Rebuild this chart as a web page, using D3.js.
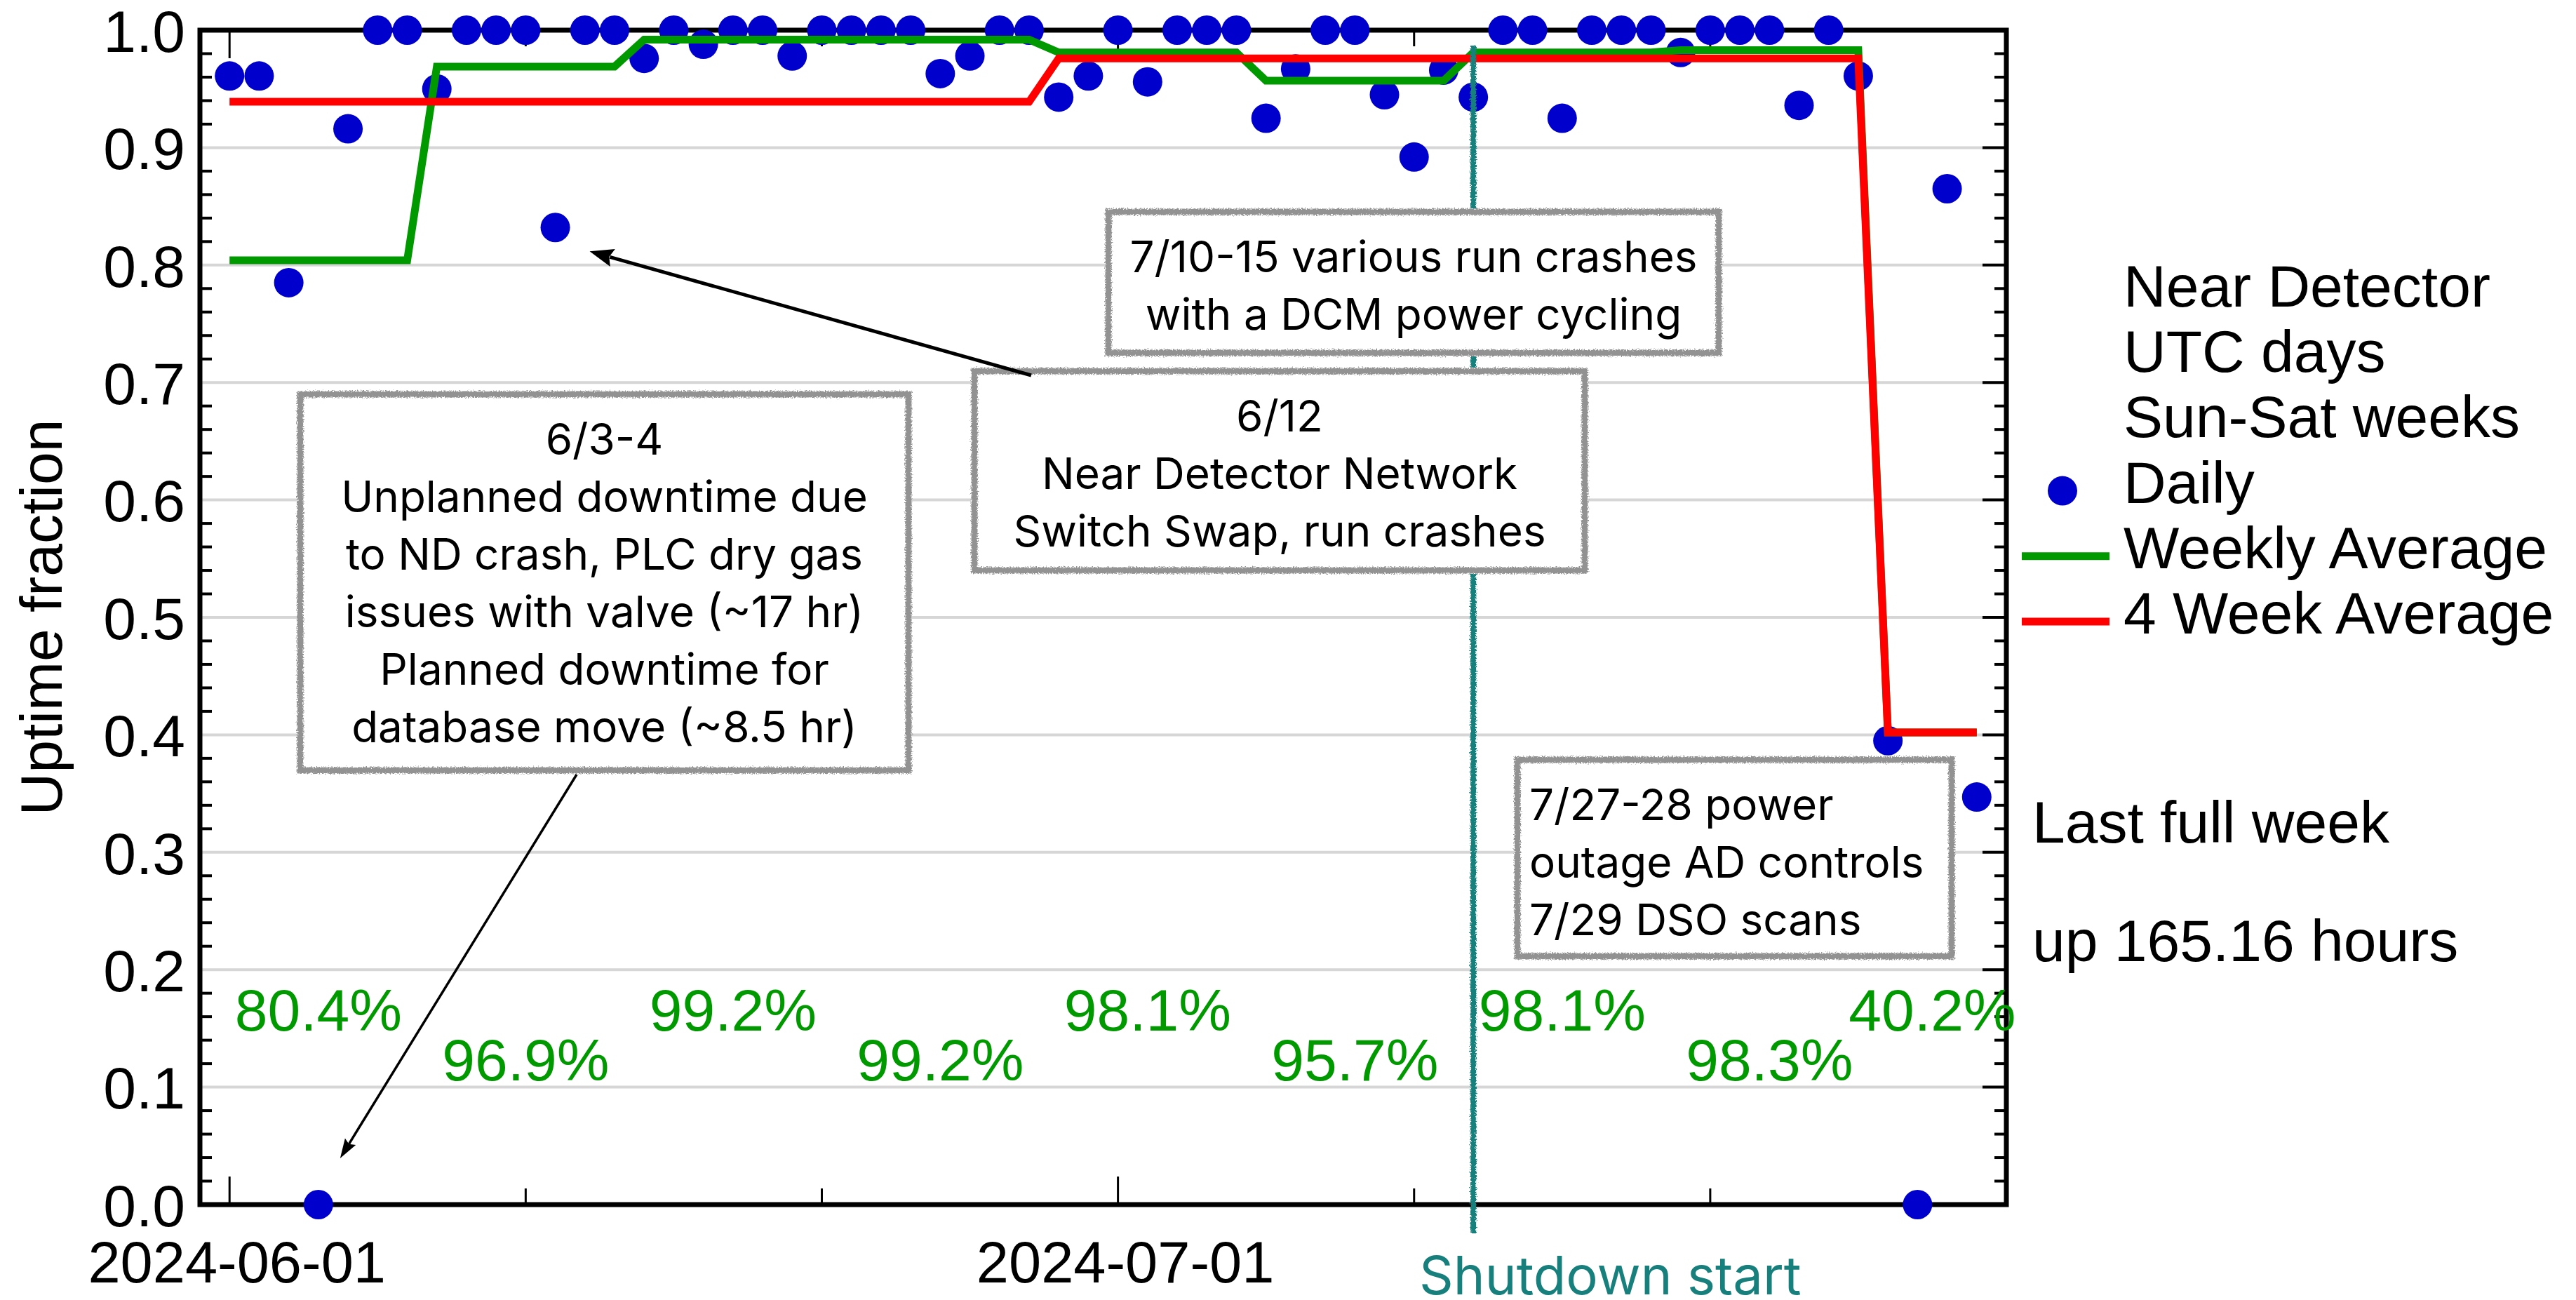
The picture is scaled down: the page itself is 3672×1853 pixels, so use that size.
<!DOCTYPE html>
<html>
<head>
<meta charset="utf-8">
<script src="https://cdn.jsdelivr.net/npm/d3@7"></script>
<style>
body { margin: 0; background: #fff; }
</style>
</head>
<body>
<div id="chart"></div>
<script>
// daily uptime fraction, one value per UTC day from 2024-06-01
var startDay = "2024-06-01";
var dailyUptime = [
    0.961, 0.961, 0.785, 0.0, 0.916, 1.0, 1.0, 0.950, 1.0, 1.0,
    1.0, 0.832, 1.0, 1.0, 0.976, 1.0, 0.988, 1.0, 1.0, 0.978,
    1.0, 1.0, 1.0, 1.0, 0.963, 0.978, 1.0, 1.0, 0.943, 0.961,
    1.0, 0.956, 1.0, 1.0, 1.0, 0.925, 0.967, 1.0, 1.0, 0.945,
    0.892, 0.966, 0.943, 1.0, 1.0, 0.925, 1.0, 1.0, 1.0, 0.981,
    1.0, 1.0, 1.0, 0.936, 1.0, 0.961, 0.395, 0.0, 0.865, 0.347
];

// weekly averages, weekStart = index of first day of each week
var weekStart = [0, 7, 14, 21, 28, 35, 42, 49, 56];
var weeklyAvg = [0.804, 0.969, 0.992, 0.992, 0.981, 0.957, 0.981, 0.983, 0.402];
var weekLabels = ["80.4%", "96.9%", "99.2%", "99.2%", "98.1%", "95.7%", "98.1%", "98.3%", "40.2%"];

// 4 week averages
var blockStart = [0, 28, 56];
var fourWeekAvg = [0.939, 0.976, 0.402];

var yTickValues = [0, 0.1, 0.2, 0.3, 0.4, 0.5, 0.6, 0.7, 0.8, 0.9, 1.0];
var xDomain = ["2024-05-31", "2024-07-31"];
var xTickDays = ["2024-06-01", "2024-06-11", "2024-06-21", "2024-07-01", "2024-07-11", "2024-07-21"];
var xLabelDays = ["2024-06-01", "2024-07-01"];

var legendHeader = ["Near Detector", "UTC days", "Sun-Sat weeks"];
var legendNames = ["Daily", "Weekly Average", "4 Week Average"];
var lastWeekText = ["Last full week", "up 165.16 hours"];
var shutdownDay = "2024-07-13";

var notes = [
    ["6/3-4", "Unplanned downtime due", "to ND crash, PLC dry gas", "issues with valve (~17 hr)", "Planned downtime for", "database move (~8.5 hr)"],
    ["6/12", "Near Detector Network", "Switch Swap, run crashes"],
    ["7/10-15 various run crashes", "with a DCM power cycling"],
    ["7/27-28 power", "outage AD controls", "7/29 DSO scans"]
];

var W = 3672, H = 1853;
var parse = d3.utcParse("%Y-%m-%d");
var day0 = parse(startDay);
var days = dailyUptime.map(function(v, i) {
    return { i: i, date: d3.utcDay.offset(day0, i), value: v };
});

var x = d3.scaleUtc().domain(xDomain.map(parse)).range([285, 2860]);
var y = d3.scaleLinear().domain([0, 1]).range([1717, 43]);

var svg = d3.select("#chart").append("svg")
    .attr("width", W)
    .attr("height", H)
    .style("font-family", "'Liberation Sans', Arial, sans-serif");

svg.append("rect").attr("width", W).attr("height", H).attr("fill", "#fff");

// rough "marker pen" look for the annotation boxes and shutdown line
var defs = svg.append("defs");
var rough = defs.append("filter").attr("id", "rough")
    .attr("filterUnits", "userSpaceOnUse")
    .attr("x", 0).attr("y", 0).attr("width", W).attr("height", H);
rough.append("feTurbulence").attr("type", "fractalNoise")
    .attr("baseFrequency", 0.55).attr("numOctaves", 2).attr("seed", 7).attr("result", "noise");
rough.append("feDisplacementMap").attr("in", "SourceGraphic").attr("in2", "noise")
    .attr("scale", 7).attr("xChannelSelector", "R").attr("yChannelSelector", "G");

var x0 = x.range()[0], x1 = x.range()[1];
var yTop = y(1), yBot = y(0);

// grid
svg.append("g").selectAll("line")
    .data(yTickValues.filter(function(v) { return v > 0 && v < 1; }))
    .join("line")
    .attr("x1", x0).attr("x2", x1)
    .attr("y1", function(d) { return y(d); })
    .attr("y2", function(d) { return y(d); })
    .style("stroke", "#d6d6d6")
    .style("stroke-width", 4);

// frame
svg.append("rect")
    .attr("x", x0).attr("y", yTop)
    .attr("width", x1 - x0).attr("height", yBot - yTop)
    .style("fill", "none")
    .style("stroke", "#000")
    .style("stroke-width", 7);

// y ticks (inward), minor every 0.02
var minor = d3.range(1, 50).filter(function(k) { return k % 5 != 0; }).map(function(k) { return k / 50; });
var tickG = svg.append("g").style("stroke", "#000").style("stroke-width", 4);
minor.forEach(function(v) {
    tickG.append("line").attr("x1", x0).attr("x2", x0 + 17).attr("y1", y(v)).attr("y2", y(v));
    tickG.append("line").attr("x1", x1).attr("x2", x1 - 17).attr("y1", y(v)).attr("y2", y(v));
});
yTickValues.forEach(function(v) {
    tickG.append("line").attr("x1", x1).attr("x2", x1 - 34).attr("y1", y(v)).attr("y2", y(v));
});

// x ticks top and bottom (inward)
xTickDays.forEach(function(s) {
    var len = xLabelDays.indexOf(s) >= 0 ? 40 : 23;
    var xx = x(parse(s));
    tickG.append("line").attr("x1", xx).attr("x2", xx).attr("y1", yBot).attr("y2", yBot - len).style("stroke-width", 3);
    tickG.append("line").attr("x1", xx).attr("x2", xx).attr("y1", yTop).attr("y2", yTop + len).style("stroke-width", 3);
});

// y axis labels
var yAxis = svg.append("g")
    .attr("transform", "translate(" + x0 + ",0)")
    .call(d3.axisLeft(y).tickValues(yTickValues).tickFormat(d3.format(".1f")).tickSize(0).tickPadding(21));
yAxis.select(".domain").remove();
yAxis.selectAll("text")
    .attr("dy", "0.36em")
    .style("font-size", "84px")
    .style("font-family", "'Liberation Sans', Arial, sans-serif")
    .style("fill", "#000");

// x axis labels
var xAxis = svg.append("g")
    .attr("transform", "translate(0," + yBot + ")")
    .call(d3.axisBottom(x).tickValues(xLabelDays.map(parse)).tickFormat(d3.utcFormat("%Y-%m-%d")).tickSize(0).tickPadding(52));
xAxis.select(".domain").remove();
xAxis.selectAll("text")
    .attr("dx", 10)
    .style("font-size", "83px")
    .style("font-family", "'Liberation Sans', Arial, sans-serif")
    .style("fill", "#000");

svg.append("text")
    .attr("transform", "translate(88," + ((yTop + yBot) / 2) + ") rotate(-90)")
    .attr("text-anchor", "middle")
    .style("font-size", "84px")
    .text("Uptime fraction");

// daily points
svg.append("g").selectAll("circle")
    .data(days)
    .join("circle")
    .attr("cx", function(d) { return x(d.date); })
    .attr("cy", function(d) { return y(d.value); })
    .attr("r", 21)
    .style("fill", "#0000cc");

// weekly and 4 week average lines, one vertex per day
var line = d3.line()
    .x(function(d) { return x(d.date); })
    .y(function(d) { return y(d.v); });

function stepped(starts, values) {
    return days.map(function(d) {
        var k = d3.bisectRight(starts, d.i) - 1;
        return { date: d.date, v: values[k] };
    });
}

svg.append("path")
    .datum(stepped(weekStart, weeklyAvg))
    .attr("d", line)
    .style("fill", "none")
    .style("stroke", "#009900")
    .style("stroke-width", 11);

svg.append("path")
    .datum(stepped(blockStart, fourWeekAvg))
    .attr("d", line)
    .style("fill", "none")
    .style("stroke", "#ff0000")
    .style("stroke-width", 11);

// weekly percentages
svg.append("g").selectAll("text")
    .data(weekLabels)
    .join("text")
    .attr("x", function(d, k) {
        var s = weekStart[k];
        var e = (k + 1 < weekStart.length ? weekStart[k + 1] : days.length) - 1;
        return (x(days[s].date) + x(days[e].date)) / 2;
    })
    .attr("y", function(d, k) { return k % 2 == 0 ? 1469 : 1540; })
    .attr("text-anchor", "middle")
    .style("font-size", "84px")
    .style("fill", "#009900")
    .text(function(d) { return d; });

// shutdown marker
var xs = x(parse(shutdownDay));
svg.append("line")
    .attr("x1", xs).attr("x2", xs)
    .attr("y1", 65).attr("y2", 1758)
    .attr("filter", "url(#rough)")
    .style("stroke", "#17807c")
    .style("stroke-width", 8);
svg.append("text")
    .attr("x", 2023).attr("y", 1845)
    .style("font-family", "Inter, 'Open Sans', sans-serif")
    .style("font-size", "76px")
    .style("fill", "#17807c")
    .text("Shutdown start");

// annotation boxes
var boxes = [
    { x: 423, y: 557, w: 877, h: 546, align: "middle" },
    { x: 1384, y: 524, w: 880, h: 294, align: "middle" },
    { x: 1575, y: 297, w: 880, h: 211, align: "middle" },
    { x: 2158, y: 1078, w: 629, h: 290, align: "start" }
];
boxes.forEach(function(b, k) {
    var g = svg.append("g");
    g.append("rect")
        .attr("x", b.x).attr("y", b.y).attr("width", b.w).attr("height", b.h)
        .style("fill", "#fff");
    g.append("rect")
        .attr("x", b.x + 5).attr("y", b.y + 5).attr("width", b.w - 10).attr("height", b.h - 10)
        .attr("filter", "url(#rough)")
        .style("fill", "none")
        .style("stroke", "#929292")
        .style("stroke-width", 9);
    g.selectAll("text")
        .data(notes[k])
        .join("text")
        .attr("x", b.align == "middle" ? b.x + b.w / 2 : b.x + 22)
        .attr("y", function(d, j) { return b.y + 91 + j * 82; })
        .attr("text-anchor", b.align)
        .style("font-family", "Inter, 'Open Sans', sans-serif")
        .style("font-size", "62px")
        .style("fill", "#000")
        .text(function(d) { return d; });
});

// arrows pointing at the 6/12 and 6/4 points
function arrow(from, to, width, headLen, headW) {
    var dx = to[0] - from[0], dy = to[1] - from[1];
    var len = Math.sqrt(dx * dx + dy * dy);
    var ux = dx / len, uy = dy / len;
    var bx = to[0] - ux * headLen, by = to[1] - uy * headLen;
    svg.append("line")
        .attr("x1", from[0]).attr("y1", from[1])
        .attr("x2", bx + ux * 4).attr("y2", by + uy * 4)
        .style("stroke", "#000")
        .style("stroke-width", width);
    svg.append("path")
        .attr("d", "M" + to[0] + "," + to[1] +
            "L" + (bx - uy * headW / 2) + "," + (by + ux * headW / 2) +
            "L" + (bx + ux * headLen * 0.15) + "," + (by + uy * headLen * 0.15) +
            "L" + (bx + uy * headW / 2) + "," + (by - ux * headW / 2) + "Z")
        .style("fill", "#000");
}
var d612 = days[11], d604 = days[3];
arrow([1470, 535], [x(d612.date) + 49, y(d612.value) + 34], 5, 34, 26);
arrow([822, 1104], [x(d604.date) + 31, y(d604.value) - 66], 3.5, 28, 18);

// legend
var lx = 3027;
svg.append("g").selectAll("text")
    .data(legendHeader.concat(legendNames))
    .join("text")
    .attr("x", lx)
    .attr("y", function(d, k) { return 437 + k * 93.2; })
    .style("font-size", "84px")
    .style("fill", "#000")
    .text(function(d) { return d; });
svg.append("circle").attr("cx", 2940).attr("cy", 437 + 3 * 93.2 - 17).attr("r", 21).style("fill", "#0000cc");
svg.append("line").attr("x1", 2882).attr("x2", 3007)
    .attr("y1", 437 + 4 * 93.2 - 17).attr("y2", 437 + 4 * 93.2 - 17)
    .style("stroke", "#009900").style("stroke-width", 11);
svg.append("line").attr("x1", 2882).attr("x2", 3007)
    .attr("y1", 437 + 5 * 93.2 - 17).attr("y2", 437 + 5 * 93.2 - 17)
    .style("stroke", "#ff0000").style("stroke-width", 11);

svg.append("g").selectAll("text")
    .data(lastWeekText)
    .join("text")
    .attr("x", 2897)
    .attr("y", function(d, k) { return k == 0 ? 1201 : 1370; })
    .style("font-size", "84px")
    .style("fill", "#000")
    .text(function(d) { return d; });
</script>
</body>
</html>
